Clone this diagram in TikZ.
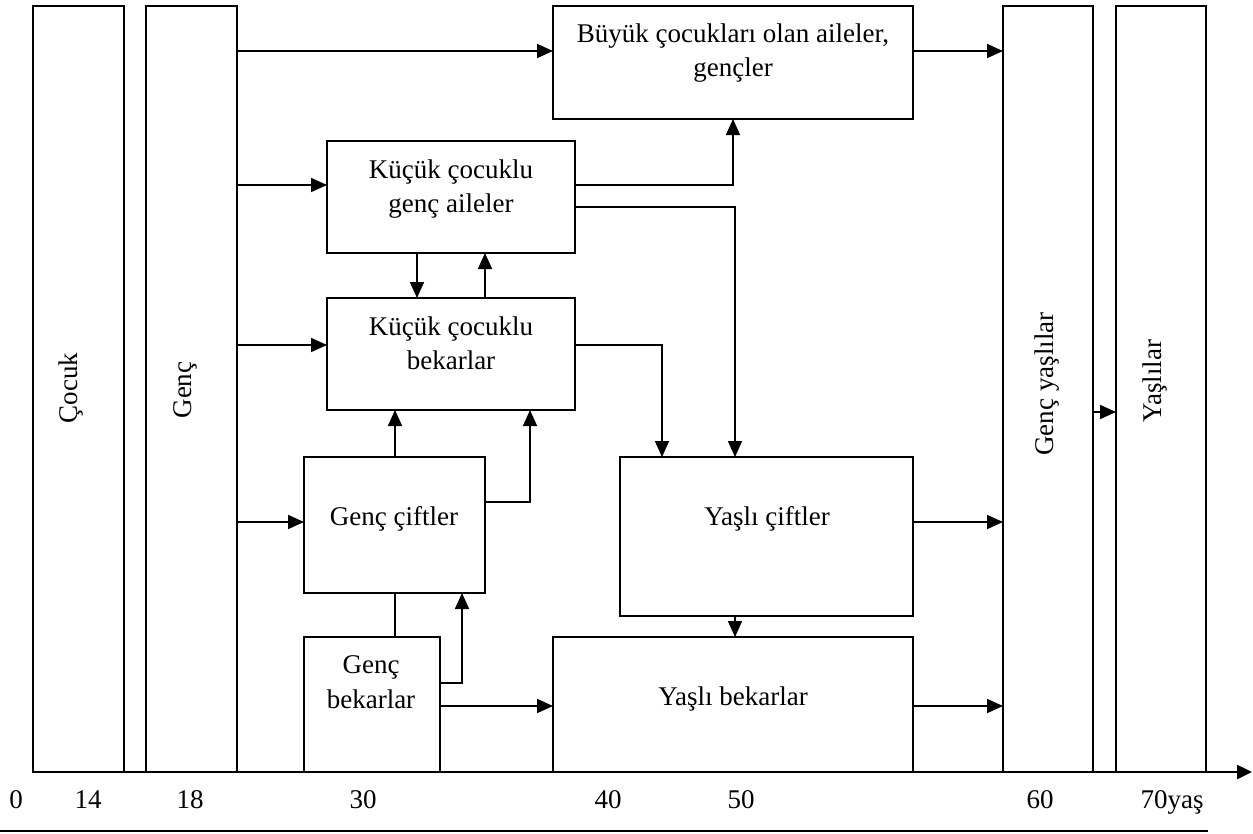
\documentclass[tikz,border=0pt]{standalone}
\usepackage{fontspec}
\setmainfont{Liberation Serif}
\usetikzlibrary{arrows.meta}

\begin{document}
\begin{tikzpicture}[x=1pt,y=-1pt,
  box/.style={draw, line width=1.8pt, rectangle, inner sep=0pt, outer sep=0pt, anchor=north west},
  txt/.style={align=center, inner sep=0pt, font=\fontsize{27}{34}\selectfont},
  vtxt/.style={txt, rotate=90},
  arr/.style={line width=1.7pt, -{Triangle[length=16pt,width=14pt]}},
  conn/.style={line width=1.7pt},
  axis/.style={line width=2.5pt, -{Triangle[length=15pt,width=14pt]}}]
\useasboundingbox (0,0) rectangle (1253,833);

% age bands
\node[box, minimum width=91pt, minimum height=766pt] (cocuk)  at (33,6)   {};
\node[box, minimum width=91pt, minimum height=766pt] (genc)   at (146,6)  {};
\node[box, minimum width=90pt, minimum height=766pt] (gyasli) at (1003,6) {};
\node[box, minimum width=90pt, minimum height=766pt] (yasli)  at (1116,6) {};

% household stages
\node[box, minimum width=360pt, minimum height=113pt] (buyuk) at (553,6)   {};
\node[box, minimum width=248pt, minimum height=112pt] (kaile) at (327,141) {};
\node[box, minimum width=248pt, minimum height=112pt] (kbek)  at (327,298) {};
\node[box, minimum width=181pt, minimum height=136pt] (gcift) at (304,457) {};
\node[box, minimum width=136pt, minimum height=135pt] (gbek)  at (304,637) {};
\node[box, minimum width=293pt, minimum height=159pt] (ycift) at (620,457) {};
\node[box, minimum width=360pt, minimum height=135pt] (ybek)  at (553,637) {};

% labels
\node[vtxt] (tcocuk)  at (71,388)   {Çocuk};
\node[vtxt] (tgenc)   at (185,390)  {Genç};
\node[vtxt] (tgyasli) at (1047,384) {Genç yaşlılar};
\node[vtxt] (tyasli)  at (1155,381) {Yaşlılar};
\node[txt] (tbuyuk) at (733,53)    {Büyük çocukları olan aileler,\\gençler};
\node[txt] (tkaile) at (451,189)   {Küçük çocuklu\\genç aileler};
\node[txt] (tkbek)  at (451,343)   {Küçük çocuklu\\bekarlar};
\node[txt] (tgcift) at (394,518.5) {Genç çiftler};
\node[txt] (tgbek)  at (371,682)   {Genç\\[1pt]bekarlar};
\node[txt] (tycift) at (767,519)   {Yaşlı çiftler};
\node[txt] (tybek)  at (733,698.5) {Yaşlı bekarlar};

% helper levels
\coordinate (r51)  at (0,51);
\coordinate (r185) at (0,185);
\coordinate (r207) at (0,207);
\coordinate (r345) at (0,345);
\coordinate (r412) at (0,412);
\coordinate (r502) at (0,502);
\coordinate (r522) at (0,522);
\coordinate (r683) at (0,683);
\coordinate (r706) at (0,706);
\coordinate (c395) at (395,0);
\coordinate (c417) at (417,0);
\coordinate (c462) at (462,0);
\coordinate (c485) at (485,0);
\coordinate (c530) at (530,0);
\coordinate (c662) at (662,0);
\coordinate (c735) at (735,0);

% transitions
\draw[arr] (genc.east |- r51)  -- (buyuk.west |- r51);
\draw[arr] (buyuk.east |- r51) -- (gyasli.west |- r51);
\draw[arr] (genc.east |- r185) -- (kaile.west |- r185);
\draw[arr] (genc.east |- r345) -- (kbek.west |- r345);
\draw[arr] (genc.east |- r522) -- (gcift.west |- r522);
\draw[arr] (ycift.east |- r522) -- (gyasli.west |- r522);
\draw[arr] (kaile.east |- r185) -| (buyuk.south);
\draw[arr] (kaile.east |- r207) -| (ycift.north -| c735);
\draw[arr] (kaile.south -| c417) -- (kbek.north -| c417);
\draw[arr] (kbek.north -| c485) -- (kaile.south -| c485);
\draw[arr] (kbek.east |- r345) -| (ycift.north -| c662);
\draw[arr] (gcift.north -| c395) -- (kbek.south -| c395);
\draw[arr] (gcift.east |- r502) -| (kbek.south -| c530);
\draw[conn] (gbek.north -| c395) -- (gcift.south -| c395);
\draw[arr] (gbek.east |- r683) -| (gcift.south -| c462);
\draw[arr] (gbek.east |- r706) -- (ybek.west |- r706);
\draw[arr] (ycift.south -| c735) -- (ybek.north -| c735);
\draw[arr] (ybek.east |- r706) -- (gyasli.west |- r706);
\draw[arr] (gyasli.east |- r412) -- (yasli.west |- r412);

% age axis
\coordinate (axend) at (1252,772);
\draw[axis] (cocuk.south west) -- (axend);
\node[txt, anchor=base] (a0)  at (16,808)   {0};
\node[txt, anchor=base] (a14) at (88,808)   {14};
\node[txt, anchor=base] (a18) at (190,808)  {18};
\node[txt, anchor=base] (a30) at (363,808)  {30};
\node[txt, anchor=base] (a40) at (608,808)  {40};
\node[txt, anchor=base] (a50) at (741,808)  {50};
\node[txt, anchor=base] (a60) at (1040,808) {60};
\node[txt, anchor=base] (a70) at (1172,808) {70yaş};

% rule under the figure
\coordinate (ruleL) at (0,831);
\coordinate (ruleR) at (1208,831);
\draw[line width=2pt] (ruleL) -- (ruleR);
\end{tikzpicture}
\end{document}
